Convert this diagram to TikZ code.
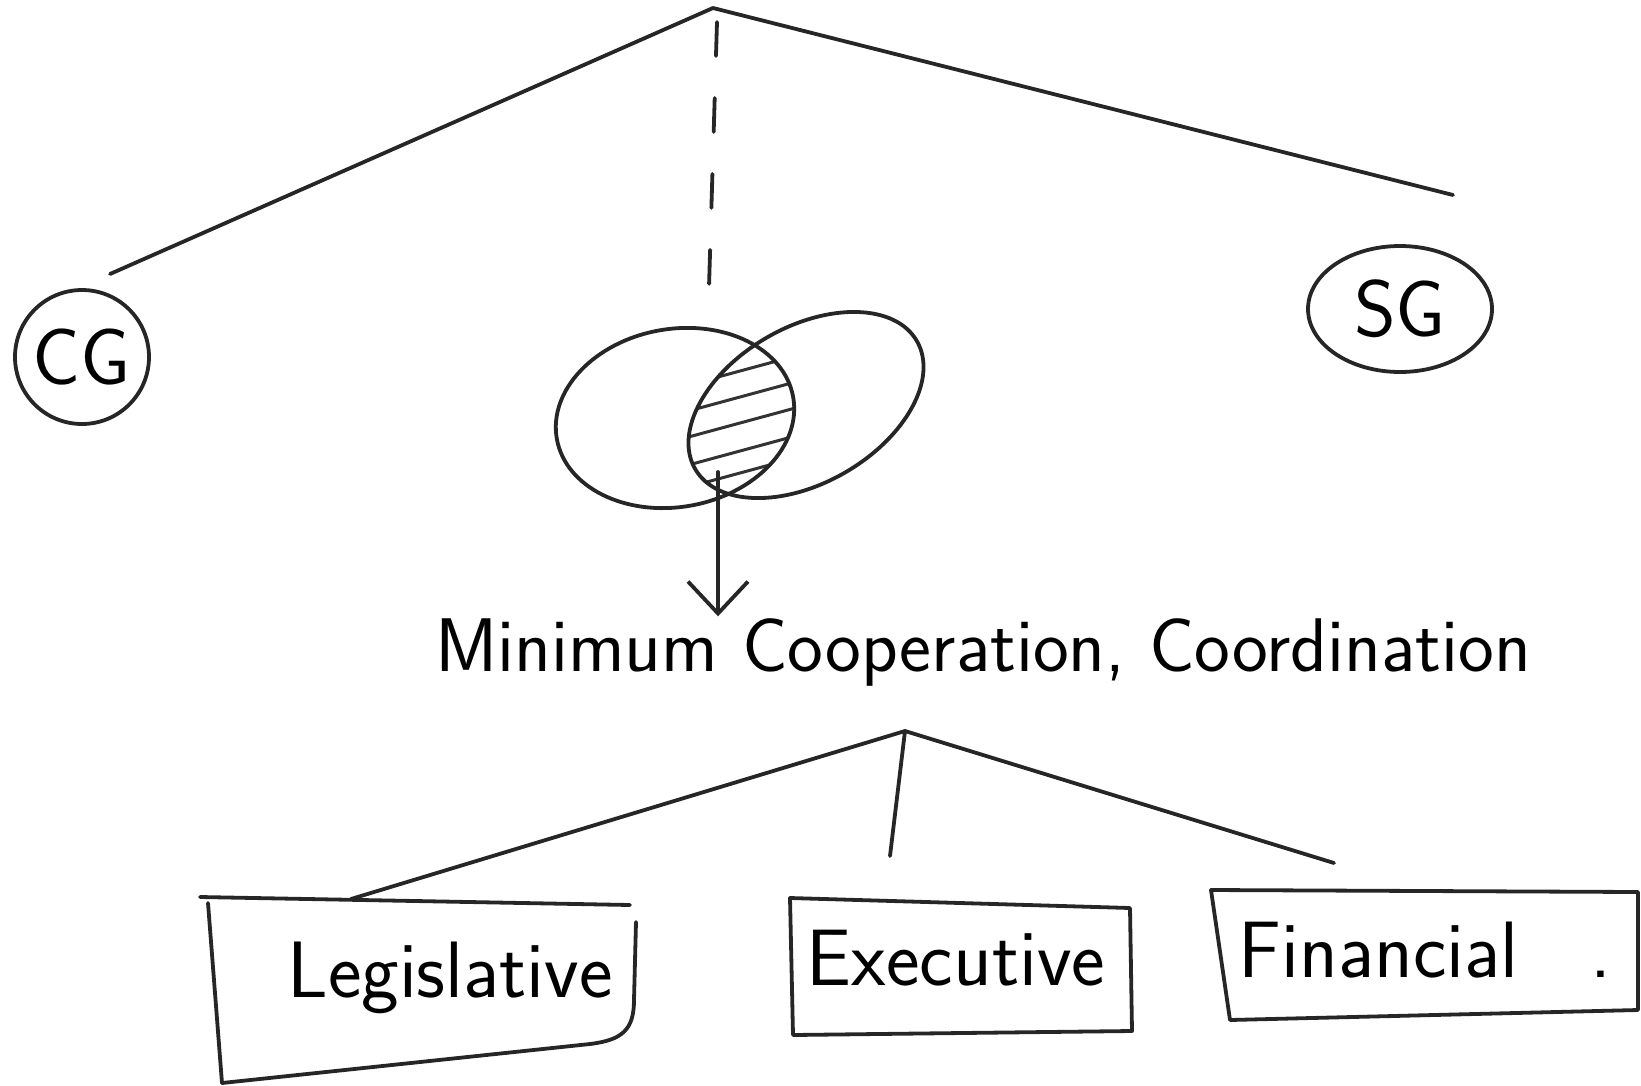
\documentclass[tikz,border=0pt]{standalone}
\usepackage{fontspec}
\usetikzlibrary{arrows.meta,shapes.geometric}
\begin{document}
\begin{tikzpicture}[x=1pt,y=-1pt,line width=3.8pt,line cap=round,line join=round,
  pen/.style={draw=black!85,line width=3.8pt},
  hatch/.style={draw=black!80,line width=3pt},
  dashedpen/.style={pen,dash pattern=on 34pt off 42pt},
  bigtext/.style={inner sep=0pt,font=\sffamily\fontsize{76}{84}\selectfont},
  boxtext/.style={inner sep=0pt,font=\sffamily\fontsize{80}{88}\selectfont},
  bubble/.style={pen,inner sep=0pt,font=\sffamily\fontsize{80}{88}\selectfont}]
\useasboundingbox (0,0) rectangle (1641,1085);

% ---------- top level ----------
\coordinate (apex) at (713,8);
\coordinate (cgend) at (110,274);
\coordinate (sgend) at (1453,195);
\coordinate (dashstart) at (717,22);
\coordinate (venntop) at (708,320);
\coordinate (vennbot) at (718,472);

\node[bubble,circle,minimum size=134pt] (cg) at (82,357) {CG};
\node[bubble,ellipse,minimum width=184pt,minimum height=126pt] (sg) at (1400,309) {SG};

\draw[pen] (apex) -- (cgend);
\draw[pen] (apex) -- (sgend);
\draw[dashedpen] (dashstart) -- (venntop);

% ---------- Venn diagram ----------
\begin{scope}
  \clip[rotate around={10:(675,418)}] (675,418) ellipse [x radius=120, y radius=89];
  \clip[rotate around={30:(806,405)}] (806,405) ellipse [x radius=128, y radius=78];
  \foreach \yy in {372,398,424,452,474}
    \draw[hatch] (670,\yy+18) -- (810,\yy-20);
\end{scope}
\draw[pen,rotate around={10:(675,418)}] (675,418) ellipse [x radius=120, y radius=89];
\draw[pen,rotate around={30:(806,405)}] (806,405) ellipse [x radius=128, y radius=78];

% ---------- middle text ----------
\node[bigtext] (mintext) at (983,652) {Minimum Cooperation, Coordination};
\draw[pen,-{Straight Barb[length=32pt,width=60pt]}] (vennbot) -- (vennbot |- mintext.north);

% ---------- lower level ----------
\coordinate (lapex) at (905,731);
\coordinate (legtop) at (351,899);
\coordinate (midend) at (890,856);
\coordinate (rightend) at (1334,863);
\draw[pen] (lapex) -- (legtop);
\draw[pen] (lapex) -- (midend);
\draw[pen] (lapex) -- (rightend);

% Legislative box
\draw[pen] (200,897) -- (630,905);
\draw[pen] (636,922) -- (634,1000) .. controls (634,1030) and (622,1040) .. (590,1044) -- (222,1083);
\draw[pen] (208,903) -- (222,1083);
\node[boxtext] (leg) at (450,978) {Legislative};

% Executive box
\draw[pen] (790,898) -- (1130,908) -- (1132,1031) -- (793,1035) -- cycle;
\node[boxtext] (exe) at (956,958) {Executive};

% Financial box
\draw[pen] (1211,890) -- (1638,892) -- (1638,1010) -- (1230,1020) -- cycle;
\node[boxtext] (fin) at (1425,950) {Financial\hspace{0.9em}.};
\end{tikzpicture}
\end{document}
